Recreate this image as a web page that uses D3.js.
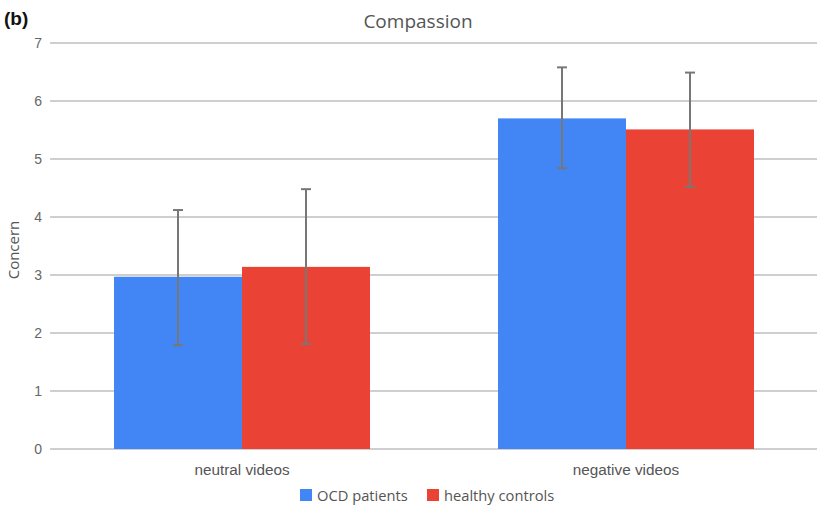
<!DOCTYPE html>
<html>
<head>
<meta charset="utf-8">
<script src="https://cdn.jsdelivr.net/npm/d3@7"></script>
<style>
  html, body { margin: 0; padding: 0; background: #fff; }
  svg { display: block; font-family: "Open Sans", "Noto Sans", sans-serif; }
</style>
</head>
<body>
<svg id="chart" width="821" height="511"></svg>
<script>
// Mean concern ratings with error ranges
const categories = ["neutral videos", "negative videos"];
const groups = ["OCD patients", "healthy controls"];
const colors = ["#4285f4", "#ea4335"];
const meanOCD = [2.97, 5.70];
const meanHealthy = [3.14, 5.51];
const lowOCD = [1.79, 4.84];
const highOCD = [4.12, 6.58];
const lowHealthy = [1.81, 4.52];
const highHealthy = [4.48, 6.49];
const yTicks = [0, 1, 2, 3, 4, 5, 6, 7];

const rows = categories.map((c, i) => ({
  category: c,
  values: [
    { group: 0, mean: meanOCD[i], low: lowOCD[i], high: highOCD[i] },
    { group: 1, mean: meanHealthy[i], low: lowHealthy[i], high: highHealthy[i] }
  ]
}));

const svg = d3.select("#chart");
const plot = { left: 50, right: 818, top: 43, bottom: 449 };

const x = d3.scaleBand().domain(categories).range([plot.left, plot.right]).paddingInner(1/3).paddingOuter(1/6);
const xInner = d3.scaleBand().domain([0, 1]).range([0, x.bandwidth()]);
const y = d3.scaleLinear().domain([0, 7]).range([plot.bottom, plot.top]);

// gridlines
svg.append("g").selectAll("line").data(yTicks).join("line")
  .attr("x1", plot.left).attr("x2", plot.right - 1)
  .attr("y1", d => y(d)).attr("y2", d => y(d))
  .attr("stroke", "#cfcfcf").attr("stroke-width", 1.8);

// y axis labels
const yAxis = d3.axisLeft(y).tickValues(yTicks).tickSize(0).tickPadding(8).tickFormat(d3.format("d"));
svg.append("g").attr("transform", `translate(${plot.left},0)`).call(yAxis)
  .call(g => g.select(".domain").remove())
  .call(g => g.selectAll("text").attr("fill", "#666").attr("font-size", 14));

// x axis labels
const xAxis = d3.axisBottom(x).tickSize(0).tickPadding(15);
svg.append("g").attr("transform", `translate(0,${plot.bottom})`).call(xAxis)
  .call(g => g.select(".domain").remove())
  .call(g => g.selectAll("text").attr("fill", "#555").attr("font-size", 15.3));

// bars
const gCat = svg.append("g").selectAll("g").data(rows).join("g")
  .attr("transform", d => `translate(${x(d.category)},0)`);

gCat.selectAll("rect").data(d => d.values).join("rect")
  .attr("x", d => xInner(d.group))
  .attr("width", xInner.bandwidth())
  .attr("y", d => y(d.mean))
  .attr("height", d => y(0) - y(d.mean))
  .attr("fill", d => colors[d.group]);

// error bars
const eb = gCat.selectAll("g.err").data(d => d.values).join("g").attr("class", "err")
  .attr("stroke", "#777").attr("stroke-width", 2);
eb.append("line")
  .attr("x1", d => xInner(d.group) + xInner.bandwidth() / 2)
  .attr("x2", d => xInner(d.group) + xInner.bandwidth() / 2)
  .attr("y1", d => y(d.low)).attr("y2", d => y(d.high));
eb.selectAll("line.cap").data(d => [{ g: d.group, v: d.low }, { g: d.group, v: d.high }]).join("line")
  .attr("class", "cap")
  .attr("x1", d => xInner(d.g) + xInner.bandwidth() / 2 - 5)
  .attr("x2", d => xInner(d.g) + xInner.bandwidth() / 2 + 5)
  .attr("y1", d => y(d.v)).attr("y2", d => y(d.v));

// title and panel label
svg.append("text").attr("x", 418).attr("y", 28).attr("text-anchor", "middle")
  .attr("fill", "#555").attr("font-size", 19).text("Compassion");
svg.append("text").attr("x", 4).attr("y", 25)
  .attr("fill", "#111").attr("font-size", 19).attr("font-weight", "bold")
  .attr("font-family", "Arial, 'Liberation Sans', sans-serif").text("(b)");

// y axis title
svg.append("text").attr("transform", `translate(19,${(plot.top + plot.bottom) / 2 + 4}) rotate(-90)`)
  .attr("text-anchor", "middle").attr("fill", "#555").attr("font-size", 15).text("Concern");

// legend
const legend = svg.append("g").attr("transform", "translate(300,489)");
const items = [{ label: groups[0], x: 0 }, { label: groups[1], x: 127 }];
items.forEach((it, i) => {
  legend.append("rect").attr("x", it.x).attr("y", 0).attr("width", 12).attr("height", 12).attr("fill", colors[i]);
  legend.append("text").attr("x", it.x + 17).attr("y", 12).attr("fill", "#555").attr("font-size", 14.7).text(it.label);
});
</script>
</body>
</html>
